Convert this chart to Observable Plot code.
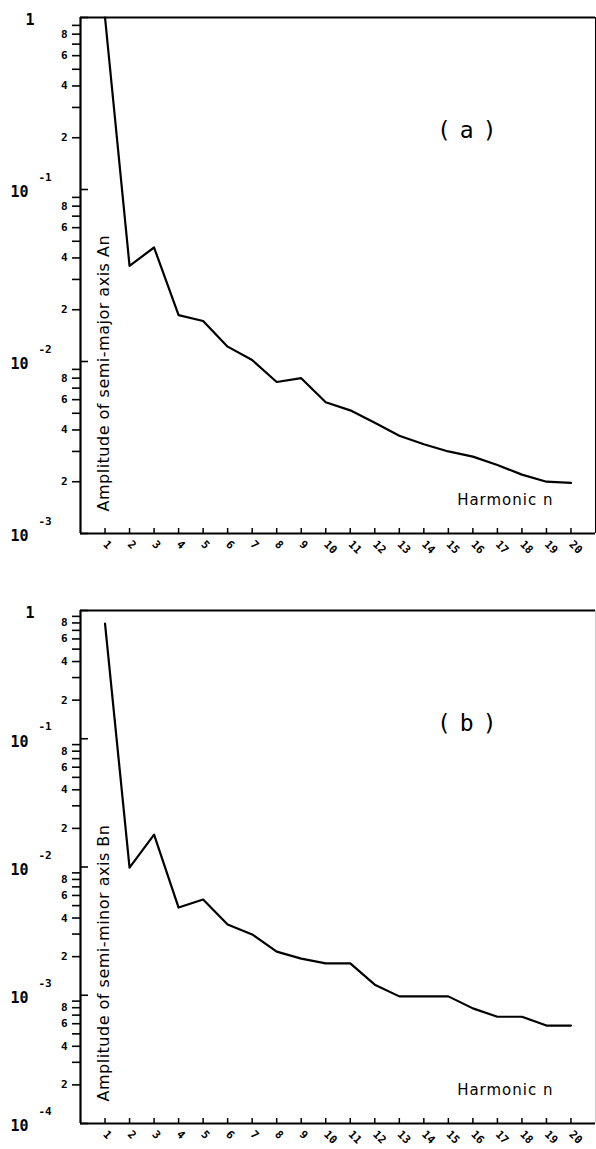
<!DOCTYPE html>
<html>
<head>
<meta charset="utf-8">
<script src="https://cdn.jsdelivr.net/npm/d3@7"></script>
<script src="https://cdn.jsdelivr.net/npm/@observablehq/plot@0.6"></script>
<style>
  body { margin: 0; background: #fff; }
  #chart svg { display: block; }
</style>
</head>
<body>
<div id="chart"></div>
<script>
// ---- data ----
const harmonics = [1,2,3,4,5,6,7,8,9,10,11,12,13,14,15,16,17,18,19,20];
const semiMajorA = [1.0, 0.036, 0.046, 0.0186, 0.0172, 0.0122, 0.0102, 0.0076, 0.0080, 0.0058,
                    0.0052, 0.0044, 0.0037, 0.0033, 0.0030, 0.0028, 0.0025, 0.0022, 0.0020, 0.00197];
const semiMinorB = [0.79, 0.0099, 0.0179, 0.00483, 0.00558, 0.00356, 0.00298, 0.00219, 0.00193, 0.00177,
                    0.00177, 0.00121, 0.00098, 0.00098, 0.00098, 0.00079, 0.00068, 0.00068, 0.00058, 0.00058];
const panelLabels = ["(a)", "(b)"];
const yTitles = ["Amplitude of semi-major axis An", "Amplitude of semi-minor axis Bn"];
const xTitle = "Harmonic n";
const xTicks = harmonics;
const minorMultipliers = [2,3,4,5,6,7,8,9];
const labeledMultipliers = [2,4,6,8];
const topDecades = [1e-3, 1e-2, 1e-1, 1];
const bottomDecades = [1e-4, 1e-3, 1e-2, 1e-1, 1];

function panel({values, decades, title, label, height, marginTop, marginBottom, rightStroke}) {
  const lo = decades[0], hi = decades[decades.length - 1];
  const minors = decades.slice(0, -1).flatMap(d => minorMultipliers.map(m => ({v: m * d, m})));
  const labeled = minors.filter(d => labeledMultipliers.includes(d.m));
  const data = harmonics.map((n, i) => ({n, v: values[i]}));
  const bold = {fontWeight: "bold", fontFamily: "DejaVu Sans Mono"};
  return Plot.plot({
    width: 596, height, marginTop, marginBottom, marginLeft: 80, marginRight: 1,
    style: {fontFamily: "DejaVu Sans Mono", background: "#fff", color: "#000", overflow: "visible"},
    x: {domain: [0, 21]},
    y: {type: "log", domain: [lo, hi]},
    marks: [
      // minor ticks, outward
      Plot.axisY(minors.map(d => d.v), {anchor: "left", tickSize: 8, strokeWidth: 1.6, tickFormat: () => "", label: null}),
      // minor labels 2, 4, 6, 8
      Plot.text(labeled, {y: "v", text: d => String(d.m), frameAnchor: "left", dx: -13, textAnchor: "end", fontSize: 11, ...bold}),
      // decade ticks, inward
      Plot.axisY(decades, {anchor: "left", tickSize: 8, dx: 8, strokeWidth: 1.6, tickFormat: () => "", label: null}),
      // decade labels
      Plot.text([hi], {y: d => d, frameAnchor: "left", dx: -55, dy: 3, text: () => "1", textAnchor: "start", fontSize: 15, ...bold}),
      Plot.text(decades.slice(0, -1), {y: d => d, frameAnchor: "left", dx: -70, dy: 3, text: () => "10", textAnchor: "start", fontSize: 15, ...bold}),
      Plot.text(decades.slice(0, -1), {y: d => d, frameAnchor: "left", dx: -42, dy: -12, text: d => String(Math.round(Math.log10(d))), textAnchor: "start", fontSize: 11, ...bold}),
      // x ticks inward + rotated labels
      Plot.axisX(xTicks, {anchor: "bottom", tickSize: 5, dy: -5, strokeWidth: 1.5, tickFormat: () => "", label: null}),
      Plot.axisX(xTicks, {anchor: "bottom", tickSize: 0, tickPadding: 9, tickRotate: 45, label: null, fontSize: 11, ...bold}),
      // frame
      Plot.ruleX([21], {stroke: rightStroke, strokeWidth: 1}),
      Plot.ruleY([hi], {strokeWidth: 2.2}),
      Plot.ruleY([lo], {strokeWidth: 2.2}),
      Plot.ruleX([0], {strokeWidth: 2.2}),
      // data
      Plot.line(data, {x: "n", y: "v", stroke: "#000", strokeWidth: 2.2}),
      // titles
      Plot.text([title], {frameAnchor: "bottom-left", rotate: -90, textAnchor: "start", dx: 28, dy: -22, fontSize: 16, fontFamily: "DejaVu Sans"}),
      Plot.text([xTitle], {frameAnchor: "bottom-right", textAnchor: "end", dx: -42, dy: -29, fontSize: 15, fontFamily: "DejaVu Sans"}),
      Plot.text([label], {frameAnchor: "top-right", dx: -90, dy: 104, fontSize: 23, fontFamily: "DejaVu Sans Mono"})
    ]
  });
}

const topPanel = panel({values: semiMajorA, decades: topDecades, title: yTitles[0], label: panelLabels[0],
  height: 580, marginTop: 17, marginBottom: 47, rightStroke: "#000"});
const bottomPanel = panel({values: semiMinorB, decades: bottomDecades, title: yTitles[1], label: panelLabels[1],
  height: 569, marginTop: 30, marginBottom: 26, rightStroke: "#ccc"});

const chart = document.getElementById("chart");
chart.append(topPanel, bottomPanel);
d3.selectAll("#chart text").filter(function() { return panelLabels.includes(this.textContent); })
  .style("letter-spacing", "9px");
d3.selectAll("#chart text").filter(function() { return yTitles.includes(this.textContent); })
  .style("letter-spacing", "0.5px");
d3.selectAll("#chart text").filter(function() { return this.textContent === xTitle; })
  .style("letter-spacing", "1px");
</script>
</body>
</html>
